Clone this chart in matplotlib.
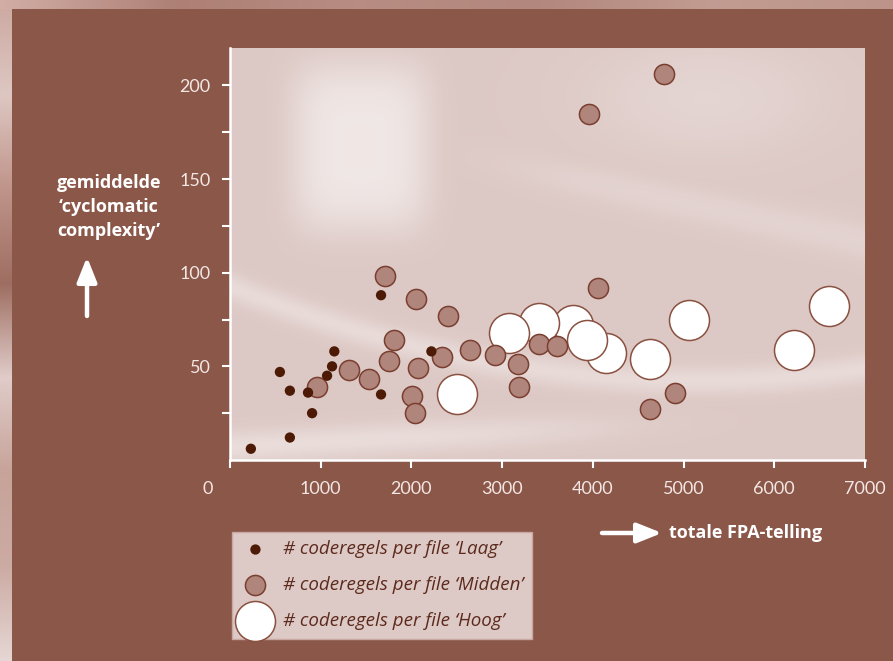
import matplotlib
matplotlib.use("Agg")
import matplotlib.pyplot as plt
import numpy as np
from matplotlib.transforms import ScaledTranslation

# FPA-telling vs gemiddelde cyclomatic complexity, per klasse coderegels per file
laag_fpa = [230, 660, 550, 660, 860, 905, 1070, 1125, 1150, 1665, 1665, 2220]
laag_cc = [6, 12, 47, 37, 36, 25, 45, 50, 58, 88, 35, 58]

midden_fpa = [1710, 2055, 2405, 1810, 1755, 1315, 1535, 960, 2075, 2010, 2040,
              2340, 2650, 2925, 3170, 3190, 3410, 3610, 4780, 3960, 4060, 4910, 4635]
midden_cc = [98, 86, 77, 64, 53, 48, 43, 39, 49, 34, 25,
             55, 59, 56, 51, 39, 62, 61, 206, 185, 92, 36, 27]

hoog_fpa = [4150, 3785, 3410, 3080, 3940, 2505, 4635, 5065, 6215, 6600]
hoog_cc = [57, 72, 73, 68, 64, 35, 54, 75, 59, 82]

labels = ["# coderegels per file \u2018Laag\u2019",
          "# coderegels per file \u2018Midden\u2019",
          "# coderegels per file \u2018Hoog\u2019"]

brown = "#8b5749"
txt_light = "#f3e7e4"
legend_txt = "#5c2a1d"

plt.rcParams["font.family"] = ["Lato", "DejaVu Sans"]

fig = plt.figure(figsize=(8.93, 6.61), dpi=100, facecolor=brown)

# light strips along the left and top edge of the panel
ax_l = fig.add_axes([0, 0, 12 / 893, 1], zorder=-5)
col = np.array([[0.80, 0.66, 0.63], [0.87, 0.78, 0.76], [0.75, 0.58, 0.54],
                [0.62, 0.43, 0.38], [0.88, 0.80, 0.79], [0.78, 0.64, 0.60],
                [0.80, 0.67, 0.64], [0.90, 0.84, 0.83]])
yy = np.linspace(0, 1, 300)
stops = np.linspace(0, 1, len(col))
strip = np.stack([np.interp(yy, stops, col[:, k]) for k in range(3)], axis=-1)
ax_l.imshow(strip[:, None, :], aspect="auto", extent=(0, 1, 0, 1))
ax_l.axis("off")

ax_t = fig.add_axes([0, 1 - 9 / 661, 1, 9 / 661], zorder=-5)
tcol = np.array([[0.82, 0.68, 0.65], [0.68, 0.50, 0.46], [0.72, 0.55, 0.51],
                 [0.70, 0.53, 0.49], [0.76, 0.61, 0.57], [0.74, 0.58, 0.54]])
xx = np.linspace(0, 1, 400)
tst = np.linspace(0, 1, len(tcol))
tstrip = np.stack([np.interp(xx, tst, tcol[:, k]) for k in range(3)], axis=-1)
ax_t.imshow(tstrip[None, :, :], aspect="auto", extent=(0, 1, 0, 1))
ax_t.axis("off")

ax = fig.add_axes([230 / 893, 1 - 460 / 661, 635 / 893, 412 / 661])

# soft streaked backdrop of the plot area
u, v = np.meshgrid(np.linspace(0, 1, 400), np.linspace(0, 1, 300))
ramp = 1 / (1 + np.exp(-(u - 0.45) / 0.06))
w = 0.85 * np.exp(-((u - 0.205) / 0.11) ** 4 - ((v - 0.76) / 0.21) ** 4)
w = np.maximum(w, 0.5 * np.exp(-((v - (0.42 - 0.62 * u + 0.42 * u ** 2)) / 0.035) ** 2))
w = np.maximum(w, 0.55 * np.exp(-((v - (0.03 + 0.08 * u)) / 0.04) ** 2) * np.exp(-(u / 0.6) ** 4))
w = np.maximum(w, 0.3 * np.exp(-((v - (0.86 - 0.33 * u)) / 0.05) ** 2) * ramp)
w = np.maximum(w, 0.35 * np.exp(-((u - 0.75) / 0.2) ** 2 - ((v - 0.88) / 0.15) ** 2))
base = np.array([0.865, 0.785, 0.77])
light = np.array([0.955, 0.93, 0.925])
bg = base + w[..., None] * (light - base)
ax.imshow(bg, origin="lower", extent=(0, 1, 0, 1), transform=ax.transAxes,
          aspect="auto", zorder=0)

ax.scatter(hoog_fpa, hoog_cc, s=830, facecolor="white", edgecolor="#8a5040",
           linewidth=1.1, zorder=2, label=labels[2])
ax.scatter(midden_fpa, midden_cc, s=210, facecolor="#b0857b", edgecolor="#7a3f30",
           linewidth=1.1, zorder=3, label=labels[1])
ax.scatter(laag_fpa, laag_cc, s=55, facecolor="#4d1a06", edgecolor="none",
           zorder=4, label=labels[0])

ax.set_xlim(0, 7000)
ax.set_ylim(0, 220)
ax.set_xticks(np.arange(0, 7001, 1000))
ax.set_yticks([50, 100, 150, 200])
ax.set_yticks(np.arange(25, 220, 25), minor=True)

for side in ["top", "right"]:
    ax.spines[side].set_visible(False)
for side in ["left", "bottom"]:
    ax.spines[side].set_color("white")
    ax.spines[side].set_linewidth(1.8)
    ax.spines[side].set_zorder(5)

ax.tick_params(axis="both", which="both", colors="white", width=1.5,
               labelcolor=txt_light, labelsize=13)
ax.tick_params(axis="y", which="both", length=6, pad=8)
ax.tick_params(axis="x", which="major", length=6, pad=9)

# the origin label sits to the left of the corner
lbl0 = ax.get_xticklabels()[0]
lbl0.set_transform(lbl0.get_transform() + ScaledTranslation(-0.22, 0, fig.dpi_scale_trans))

label_font = ["Open Sans", "DejaVu Sans"]
fig.text(109 / 893, 1 - 207 / 661, "gemiddelde\n\u2018cyclomatic\ncomplexity\u2019",
         color="white", fontsize=13, fontweight="bold", ha="center", va="center",
         linespacing=1.45, family=label_font)
fig.text(669 / 893, 1 - 533 / 661, "totale FPA-telling", color="white",
         fontsize=13, fontweight="bold", ha="left", va="center", family=label_font)

arrow = dict(arrowstyle="-|>,head_length=0.75,head_width=0.3", lw=3.2,
             color="white", shrinkA=0, shrinkB=0, mutation_scale=20)
ax.annotate("", xy=(87, 661 - 257), xytext=(87, 661 - 316),
            xycoords="figure pixels", textcoords="figure pixels",
            arrowprops=arrow, annotation_clip=False)
ax.annotate("", xy=(662, 661 - 533), xytext=(602, 661 - 533),
            xycoords="figure pixels", textcoords="figure pixels",
            arrowprops=arrow, annotation_clip=False)

handles, hl = ax.get_legend_handles_labels()
order = [2, 1, 0]
leg = fig.legend([handles[i] for i in order], [hl[i] for i in order],
                 loc="upper left", bbox_to_anchor=(232 / 893, 1 - 532 / 661),
                 borderaxespad=0, fancybox=False, facecolor="#ddc9c5",
                 edgecolor="#c9a8a1", framealpha=1,
                 prop=dict(family=label_font, style="italic", size=13.5),
                 labelspacing=0.95, handletextpad=0.65, borderpad=0.45,
                 handlelength=1.6, scatterpoints=1)
leg.get_frame().set_linewidth(1.0)
for t in leg.get_texts():
    t.set_color(legend_txt)

fig.savefig("out.png", dpi=100, facecolor=brown)
